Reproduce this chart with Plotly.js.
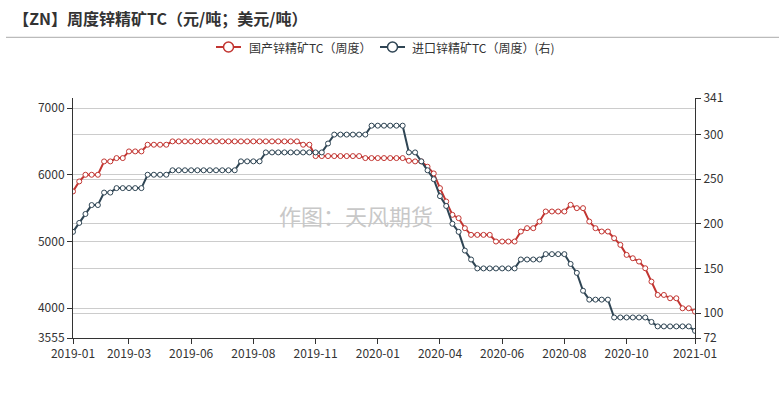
<!DOCTYPE html>
<html>
<head>
<meta charset="utf-8">
<script src="https://cdn.plot.ly/plotly-3.0.1.min.js"></script>
<style>html,body{margin:0;padding:0;background:#fff;}#chart{width:779px;height:394px;}</style>
</head>
<body>
<div id="chart"></div>
<script>
// Domestic zinc concentrate TC (CNY/t), weekly
const domesticTC = [
  5750, 5900, 6000, 6000, 6000, 6200, 6200, 6250, 6250, 6350,
  6350, 6350, 6450, 6450, 6450, 6450, 6500, 6500, 6500, 6500,
  6500, 6500, 6500, 6500, 6500, 6500, 6500, 6500, 6500, 6500,
  6500, 6500, 6500, 6500, 6500, 6500, 6500, 6450, 6450, 6280,
  6280, 6280, 6280, 6280, 6280, 6280, 6280, 6250, 6250, 6250,
  6250, 6250, 6250, 6250, 6210, 6200, 6200, 6120, 6020, 5800,
  5600, 5400, 5350, 5200, 5100, 5100, 5100, 5100, 5000, 5000,
  5000, 5000, 5150, 5200, 5200, 5300, 5450, 5450, 5450, 5450,
  5550, 5500, 5500, 5300, 5200, 5150, 5150, 5050, 4950, 4800,
  4750, 4700, 4600, 4400, 4200, 4200, 4150, 4150, 4000, 4000,
  3950
];
// Imported zinc concentrate TC (USD/t), weekly, right axis
const importTC = [
  191, 201, 211, 221, 221, 235, 235, 240, 240, 240,
  240, 240, 255, 255, 255, 255, 260, 260, 260, 260,
  260, 260, 260, 260, 260, 260, 260, 270, 270, 270,
  270, 280, 280, 280, 280, 280, 280, 280, 280, 280,
  280, 290, 300, 300, 300, 300, 300, 300, 310, 310,
  310, 310, 310, 310, 280, 280, 270, 260, 250, 231,
  220, 200, 191, 170, 160, 150, 150, 150, 150, 150,
  150, 150, 160, 160, 160, 160, 166, 166, 166, 166,
  155, 145, 125, 115, 115, 115, 115, 95, 95, 95,
  95, 95, 95, 90, 85, 85, 85, 85, 85, 85,
  80
];
// x-axis labels and the week positions where they appear
const tickLabels = ['2019-01','2019-03','2019-06','2019-08','2019-11','2020-01','2020-04','2020-06','2020-08','2020-10','2021-01'];
const tickWeeks = [0, 9, 19, 29, 39, 49, 59, 69, 79, 89, 100];
const leftTicks = [3555, 4000, 5000, 6000, 7000];
const rightTicks = [72, 100, 150, 200, 250, 300, 341];
const seriesNames = ['国产锌精矿TC（周度）', '进口锌精矿TC（周度）(右)'];

const weeks = domesticTC.map((_, i) => i);
const FONT = '"Microsoft YaHei", "Noto Sans CJK SC", "Noto Sans", sans-serif';
const RED = '#c23531', DARK = '#2f4554';
const colors = [RED, DARK];

const traces = [
  {
    x: weeks, y: domesticTC, name: seriesNames[0], type: 'scatter', mode: 'lines+markers',
    line: {color: RED, width: 2},
    marker: {symbol: 'circle', size: 5, color: '#fff', line: {color: RED, width: 1}},
    yaxis: 'y', hoverinfo: 'skip', showlegend: false
  },
  {
    x: weeks, y: importTC, name: seriesNames[1], type: 'scatter', mode: 'lines+markers',
    line: {color: DARK, width: 2},
    marker: {symbol: 'circle', size: 5, color: '#fff', line: {color: DARK, width: 1}},
    yaxis: 'y2', hoverinfo: 'skip', showlegend: false
  }
];

// Plot area geometry in pixels (for drawing the legend in paper coordinates)
const PL = 73, PW = 622, PB = 338, PH = 240;
const px = v => (v - PL) / PW;
const py = v => (PB - v) / PH;
const legendY = 47;
const legendItems = [{x0: 216, text: 247}, {x0: 380, text: 410}];

const shapes = [
  {type: 'line', xref: 'paper', yref: 'paper', x0: px(6), x1: px(779), y0: py(37.3), y1: py(37.3),
   line: {color: '#aaa', width: 1}}
];
const annotations = [
  {text: '作图：天风期货', xref: 'paper', yref: 'paper', x: px(355.5), y: py(215),
   xanchor: 'center', yanchor: 'middle', showarrow: false,
   font: {family: FONT, size: 22, color: '#c8c8c8'}}
];
legendItems.forEach((it, i) => {
  const c = it.x0 + 12.5;
  shapes.push({type: 'line', xref: 'paper', yref: 'paper', x0: px(it.x0), x1: px(it.x0 + 25),
    y0: py(legendY), y1: py(legendY), line: {color: colors[i], width: 2}});
  shapes.push({type: 'circle', xref: 'paper', yref: 'paper', x0: px(c - 5), x1: px(c + 5),
    y0: py(legendY + 5), y1: py(legendY - 5), fillcolor: '#fff', line: {color: colors[i], width: 1.5}});
  annotations.push({text: seriesNames[i], xref: 'paper', yref: 'paper', x: px(it.text), y: py(legendY),
    xanchor: 'left', yanchor: 'middle', showarrow: false,
    font: {family: FONT, size: 12, color: '#333'}});
});

const layout = {
  width: 779, height: 394,
  margin: {l: PL, r: 779 - PL - PW, t: PB - PH, b: 394 - PB},
  paper_bgcolor: '#fff', plot_bgcolor: '#fff',
  font: {family: FONT, size: 12, color: '#333'},
  showlegend: false,
  title: {
    text: '<b>【ZN】周度锌精矿TC（元/吨；美元/吨）</b>',
    font: {family: FONT, size: 16, color: '#333'},
    xref: 'container', yref: 'container',
    x: 0.017, xanchor: 'left', y: 0.95, yanchor: 'middle'
  },
  xaxis: {
    range: [0, 100], tickmode: 'array', tickvals: tickWeeks, ticktext: tickLabels,
    showgrid: false, zeroline: false,
    showline: true, linecolor: '#333', linewidth: 1,
    ticks: 'outside', ticklen: 5, tickcolor: '#333',
    tickfont: {family: FONT, size: 12, color: '#333'}
  },
  yaxis: {
    range: [3555, 7150], tickmode: 'array', tickvals: leftTicks,
    showgrid: true, gridcolor: '#ccc', gridwidth: 1, zeroline: false,
    showline: true, linecolor: '#333', linewidth: 1,
    ticks: 'outside', ticklen: 5, tickcolor: '#333',
    tickfont: {family: FONT, size: 12, color: '#333'}
  },
  yaxis2: {
    range: [72, 341], overlaying: 'y', side: 'right', tickmode: 'array', tickvals: rightTicks,
    showgrid: true, gridcolor: '#ccc', gridwidth: 1, zeroline: false,
    showline: true, linecolor: '#333', linewidth: 1,
    ticks: 'outside', ticklen: 5, tickcolor: '#333',
    tickfont: {family: FONT, size: 12, color: '#333'}
  },
  shapes: shapes,
  annotations: annotations
};

Plotly.newPlot('chart', traces, layout, {displayModeBar: false, staticPlot: true});
</script>
</body>
</html>
